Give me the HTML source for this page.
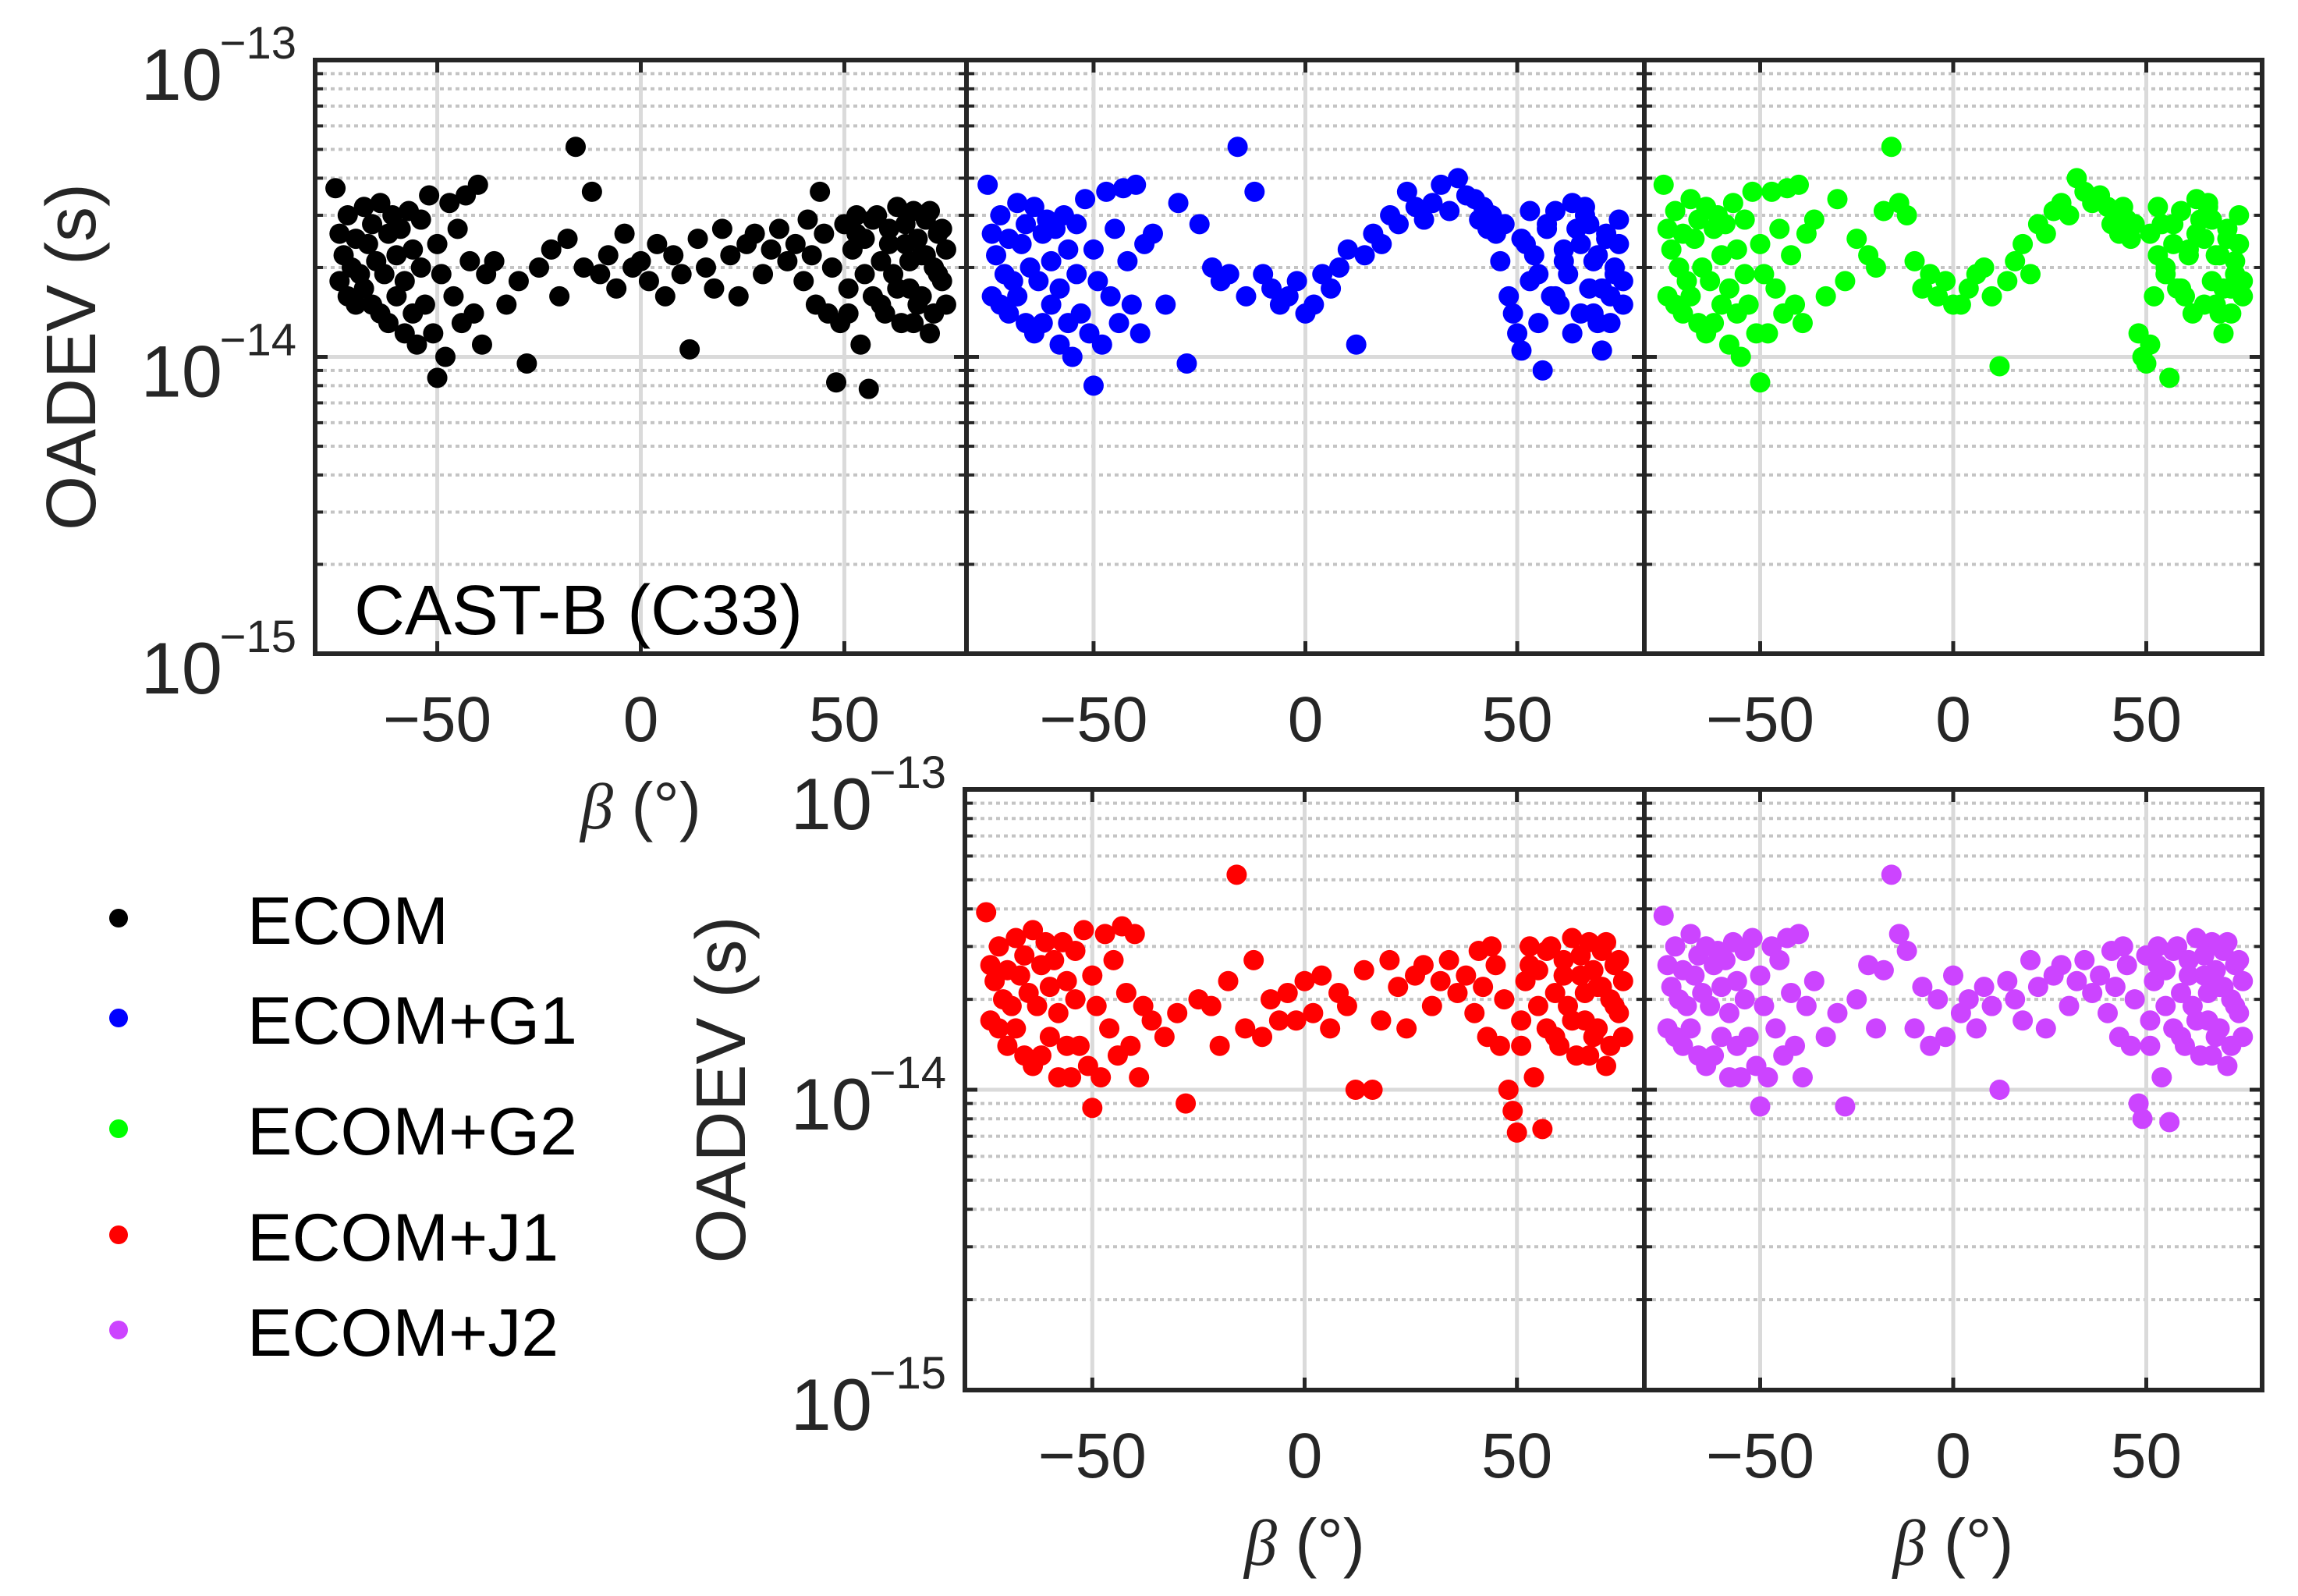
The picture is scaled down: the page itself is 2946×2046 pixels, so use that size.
<!DOCTYPE html>
<html><head><meta charset="utf-8"><style>
html,body{margin:0;padding:0;background:#fff;}
svg{display:block;font-family:"Liberation Sans",Arial,sans-serif;}
</style></head><body>
<svg id="chart" width="2946" height="2046" viewBox="0 0 2946 2046" xmlns="http://www.w3.org/2000/svg">
<g id="legend"></g>
</svg>
<script>
const betas = [
-75,-74,-74,-73,-72,-72,-71,-70,-70,-69,
-68,-68,-67,-66,-66,-65,-64,-64,-63,-62,
-62,-61,-60,-60,-59,-58,-58,-57,-56,-56,
-55,-54,-54,-53,-52,-51,-50,-50,-49,-48,
-47,-46,-45,-44,-43,-42,-41,-40,-39,-38,
-36,-33,-30,-28,-25,-22,-20,-18,-16,-14,
-12,-10,-8,-6,-4,-2,0,2,4,6,
8,10,12,14,16,18,20,22,24,26,
28,30,32,34,36,38,40,41,42,43,
44,45,46,47,48,49,50,51,52,53,
54,55,56,57,58,59,60,61,62,63,
64,65,66,67,68,69,70,71,72,73,
74,75,75,74,73,72,71,70,69,68,
67,66,65,63,61,59,57,55,53,51];
// OADEV values in units of 1e-14 s
const ecom = [
3.7,2.6,1.8,2.2,1.6,3.0,2.0,1.5,2.5,1.9,
3.2,1.7,2.4,1.5,2.8,2.1,3.3,1.4,1.9,2.6,
1.3,3.0,2.2,1.6,2.7,1.2,1.8,3.1,2.3,1.4,
1.1,2.0,2.9,1.5,3.5,1.2,0.85,2.4,1.9,1.0,
3.3,1.6,2.7,1.3,3.5,2.1,1.4,3.8,1.1,1.9,
2.1,1.5,1.8,0.95,2.0,2.3,1.6,2.5,5.1,2.0,
3.6,1.9,2.2,1.7,2.6,2.0,2.1,1.8,2.4,1.6,
2.2,1.9,1.06,2.5,2.0,1.7,2.7,2.2,1.6,2.4,
2.6,1.9,2.3,2.7,2.1,2.4,1.8,2.9,2.2,1.5,
3.6,2.6,1.4,2.0,0.82,1.3,2.8,1.7,2.3,3.0,
1.1,2.5,0.78,1.6,3.0,2.1,1.4,2.7,1.9,3.2,
1.3,2.4,1.7,3.1,1.5,2.2,2.9,1.2,2.0,2.6,
1.8,2.3,1.5,2.7,1.9,1.4,3.1,2.2,1.6,2.5,
1.3,2.1,2.8,1.7,2.4,1.5,2.9,1.9,2.6,1.4];
const ecomG1 = [
3.8,2.6,1.6,2.2,1.5,3.0,1.9,1.4,2.5,1.8,
3.3,1.6,2.4,1.3,2.8,2.0,3.2,1.2,1.8,2.6,
1.3,2.9,2.1,1.5,2.7,1.1,1.7,3.0,2.3,1.3,
1.0,1.9,2.8,1.4,3.4,1.2,0.8,2.3,1.8,1.1,
3.6,1.6,2.7,1.3,3.7,2.1,1.5,3.8,1.2,2.4,
2.6,1.5,3.3,0.95,2.8,2.0,1.8,1.9,5.1,1.6,
3.6,1.9,1.7,1.5,1.6,1.8,1.4,1.5,1.9,1.7,
2.0,2.3,1.1,2.2,2.6,2.4,3.0,2.8,3.6,3.2,
2.9,3.3,3.8,3.1,4.0,3.5,3.4,2.9,3.2,2.7,
3.0,2.6,2.1,2.8,1.6,1.4,1.2,1.05,2.4,1.8,
2.2,1.3,0.9,2.8,1.6,3.1,1.5,2.3,1.9,1.2,
2.7,1.4,3.2,1.7,2.1,1.3,1.05,2.5,1.6,2.0,
2.4,1.8,1.5,2.9,1.9,1.3,2.6,1.7,2.2,1.4,
2.8,3.0,2.4,3.3,2.1,1.6,2.7,1.9,3.1,2.5];
const ecomG2 = [
3.8,2.7,1.6,2.3,1.5,3.1,2.0,1.4,2.6,1.8,
3.4,1.6,2.5,1.3,2.9,2.0,3.2,1.2,1.8,2.7,
1.3,3.0,2.2,1.5,2.8,1.1,1.7,3.3,2.3,1.4,
1.0,1.9,2.9,1.5,3.6,1.2,0.82,2.4,1.9,1.2,
3.6,1.7,2.7,1.4,3.7,2.2,1.5,3.8,1.3,2.6,
2.9,1.6,3.4,1.8,2.5,2.2,2.0,3.1,5.1,3.3,
3.0,2.1,1.7,1.9,1.6,1.8,1.5,1.5,1.7,1.9,
2.0,1.6,0.93,1.8,2.1,2.4,1.9,2.8,2.6,3.1,
3.3,3.0,4.0,3.6,3.3,3.5,3.2,2.8,3.0,2.6,
3.2,2.9,2.5,2.8,1.2,1.0,0.95,1.1,1.6,2.2,
2.8,1.9,0.85,2.4,1.7,3.1,1.6,2.3,1.4,2.6,
2.9,1.5,3.3,1.8,2.2,1.4,1.2,2.5,1.7,2.1,
2.4,1.8,1.6,3.0,1.9,1.4,2.7,1.7,2.2,1.5,
2.9,3.2,2.5,3.4,2.2,1.7,2.8,2.0,3.2,2.6];
const ecomJ1 = [
3.9,2.6,1.7,2.3,1.6,3.0,2.0,1.4,2.5,1.9,
3.2,1.6,2.4,1.3,2.8,2.1,3.4,1.2,1.9,2.6,
1.3,3.1,2.2,1.5,2.7,1.1,1.8,3.1,2.3,1.4,
1.1,2.0,2.9,1.4,3.4,1.2,0.87,2.4,1.9,1.1,
3.3,1.6,2.7,1.3,3.5,2.1,1.4,3.3,1.1,1.9,
1.7,1.5,1.8,0.9,2.0,1.9,1.4,2.3,5.2,1.6,
2.7,1.5,2.0,1.7,2.1,1.7,2.3,1.8,2.4,1.6,
2.1,1.9,1.0,2.5,1.0,1.7,2.7,2.2,1.6,2.4,
2.6,1.9,2.3,2.7,2.1,2.4,1.8,2.9,2.2,1.5,
3.0,2.6,1.4,2.0,1.0,0.85,0.72,1.7,2.3,3.0,
1.1,2.5,0.74,1.6,3.0,2.1,1.4,2.7,1.9,3.2,
1.3,2.4,1.7,3.1,1.5,2.2,2.9,1.2,2.0,2.6,
1.8,2.3,1.5,2.7,1.9,1.4,3.1,2.2,1.6,2.5,
1.3,2.1,2.8,1.7,2.4,1.5,2.9,1.9,2.6,1.4];
const ecomJ2 = [
3.8,2.6,1.6,2.2,1.5,3.0,2.0,1.4,2.5,1.9,
3.3,1.6,2.4,1.3,2.8,2.1,3.0,1.2,1.9,2.6,
1.3,2.9,2.2,1.5,2.7,1.1,1.8,3.1,2.3,1.4,
1.1,2.0,2.9,1.5,3.2,1.2,0.88,2.4,1.9,1.1,
3.0,1.6,2.7,1.3,3.2,2.1,1.4,3.3,1.1,1.9,
2.3,1.5,1.8,0.88,2.0,2.6,1.6,2.5,5.2,3.3,
2.9,1.6,2.2,1.4,2.0,1.5,2.4,1.8,2.0,1.6,
2.2,1.9,1.0,2.3,2.0,1.7,2.7,2.2,1.6,2.4,
2.6,1.9,2.3,2.7,2.1,2.4,1.8,2.9,2.2,1.5,
3.0,2.6,1.4,2.0,0.9,0.8,2.8,1.7,2.3,3.0,
1.1,2.5,0.78,1.6,3.0,2.1,1.4,2.7,1.9,3.2,
1.3,2.4,1.7,3.1,1.5,2.2,2.9,1.2,2.0,2.6,
1.8,2.3,1.5,2.7,1.9,1.4,3.1,2.2,1.6,2.5,
1.3,2.1,2.8,1.7,2.4,1.5,2.9,1.9,2.6,1.4];
const seriesNames = ["ECOM","ECOM+G1","ECOM+G2","ECOM+J1","ECOM+J2"];
const seriesColors = ["#000000","#0000ff","#00ff00","#ff0000","#cc44ff"];
const xTicks = [-50,0,50];
const xTickLabels = ["\u221250","0","50"];
const yDecades = [-13,-14,-15];

const NS = "http://www.w3.org/2000/svg";
const svg = document.getElementById("chart");
function mk(tag, attrs, parent){
  const e = document.createElementNS(NS, tag);
  for (const k in attrs) e.setAttribute(k, attrs[k]);
  (parent||svg).appendChild(e);
  return e;
}
const panels = [
  {x0:404, x1:1239, y0:77, y1:838, data:ecom, c:0, ylab:true, xlab:true, name:"ecom"},
  {x0:1239, x1:2108, y0:77, y1:838, data:ecomG1, c:1, name:"ecom-g1"},
  {x0:2108, x1:2900, y0:77, y1:838, data:ecomG2, c:2, name:"ecom-g2"},
  {x0:1237, x1:2108, y0:1012, y1:1782, data:ecomJ1, c:3, ylab:true, xlab:true, name:"ecom-j1"},
  {x0:2108, x1:2900, y0:1012, y1:1782, data:ecomJ2, c:4, xlab:true, name:"ecom-j2"}
];
panels.forEach(p=>{
  const g = mk("g",{});
  
  
  const sx = b => p.x0 + (b + 80) / 160 * (p.x1 - p.x0);
  const sy = v => p.y0 + (-13 - Math.log10(v * 1e-14)) / 2 * (p.y1 - p.y0);
  for (let d = -15; d < -13; d++) {
    for (let m = 2; m <= 9; m++) {
      const y = sy(m * Math.pow(10, d + 14));
      const l = mk("line",{x1:p.x0,x2:p.x1,y1:y,y2:y,stroke:"#c4c4c4","stroke-width":4,"stroke-dasharray":"5 5"},g);
      
      
      mk("line",{x1:p.x0,x2:p.x0+10,y1:y,y2:y,stroke:"#262626","stroke-width":4},g);
      mk("line",{x1:p.x1-10,x2:p.x1,y1:y,y2:y,stroke:"#262626","stroke-width":4},g);
    }
  }
  const ym = sy(1);
  const hl = mk("line",{x1:p.x0,x2:p.x1,y1:ym,y2:ym,stroke:"#dadada","stroke-width":5},g);
  
  
  mk("line",{x1:p.x0,x2:p.x0+16,y1:ym,y2:ym,stroke:"#262626","stroke-width":5},g);
  mk("line",{x1:p.x1-16,x2:p.x1,y1:ym,y2:ym,stroke:"#262626","stroke-width":5},g);
  xTicks.forEach((t,i)=>{
    const x = sx(t);
    const vl = mk("line",{x1:x,x2:x,y1:p.y0,y2:p.y1,stroke:"#dadada","stroke-width":5},g);
    
    
    mk("line",{x1:x,x2:x,y1:p.y0,y2:p.y0+16,stroke:"#262626","stroke-width":5},g);
    mk("line",{x1:x,x2:x,y1:p.y1-16,y2:p.y1,stroke:"#262626","stroke-width":5},g);
    const tl = mk("text",{x:x,y:p.y1+112,"text-anchor":"middle","font-size":82,fill:"#262626"},g);
    tl.textContent = xTickLabels[i];
    
    
  });
  betas.forEach((b,i)=>{
    const c = mk("circle",{cx:sx(b),cy:sy(p.data[i]),r:13,fill:seriesColors[p.c]},g);
    
    
  });
  const fr = mk("rect",{x:p.x0,y:p.y0,width:p.x1-p.x0,height:p.y1-p.y0,fill:"none",stroke:"#262626","stroke-width":6},g);
  
  
  if (p.ylab) {
    yDecades.forEach(d=>{
      const y = sy(Math.pow(10, d + 14));
      const right = p.x0 - 24;
      const t = mk("text",{x:right-95,y:y+51,"text-anchor":"end","font-size":94,fill:"#262626"},g);
      t.textContent = "10";
      
      
      const e = mk("text",{x:right,y:y-2,"text-anchor":"end","font-size":58,fill:"#262626"},g);
      e.textContent = "\u2212" + (-d);
      
      
    });
    const cx = p.x0 - 313, cy = (p.y0 + p.y1) / 2;
    const yl = mk("text",{x:cx,y:cy,"text-anchor":"middle","font-size":90,fill:"#262626",transform:`rotate(-90 ${cx} ${cy}) translate(0 31)`},g);
    yl.textContent = "OADEV (s)";
    
    
  }
  if (p.xlab) {
    const xl = mk("text",{x:sx(0),y:p.y1+224,"text-anchor":"middle","font-size":84,fill:"#262626"},g);
    xl.innerHTML = '<tspan font-family="Liberation Serif, serif" font-style="italic">\u03b2</tspan> (\u00b0)';
    
    
  }
});
const title = mk("text",{x:454,y:813,"font-size":90,fill:"#000"});
title.textContent = "CAST-B (C33)";



const legend = document.getElementById("legend");
const legendY = [1177,1305,1447,1583,1705];
seriesNames.forEach((n,i)=>{
  const g = mk("g",{},legend);
  
  
  mk("circle",{cx:152,cy:legendY[i],r:12,fill:seriesColors[i]},g);
  const t = mk("text",{x:317,y:legendY[i]+33,"font-size":86,fill:"#000"},g);
  t.textContent = n;
});
</script>
</body></html>
